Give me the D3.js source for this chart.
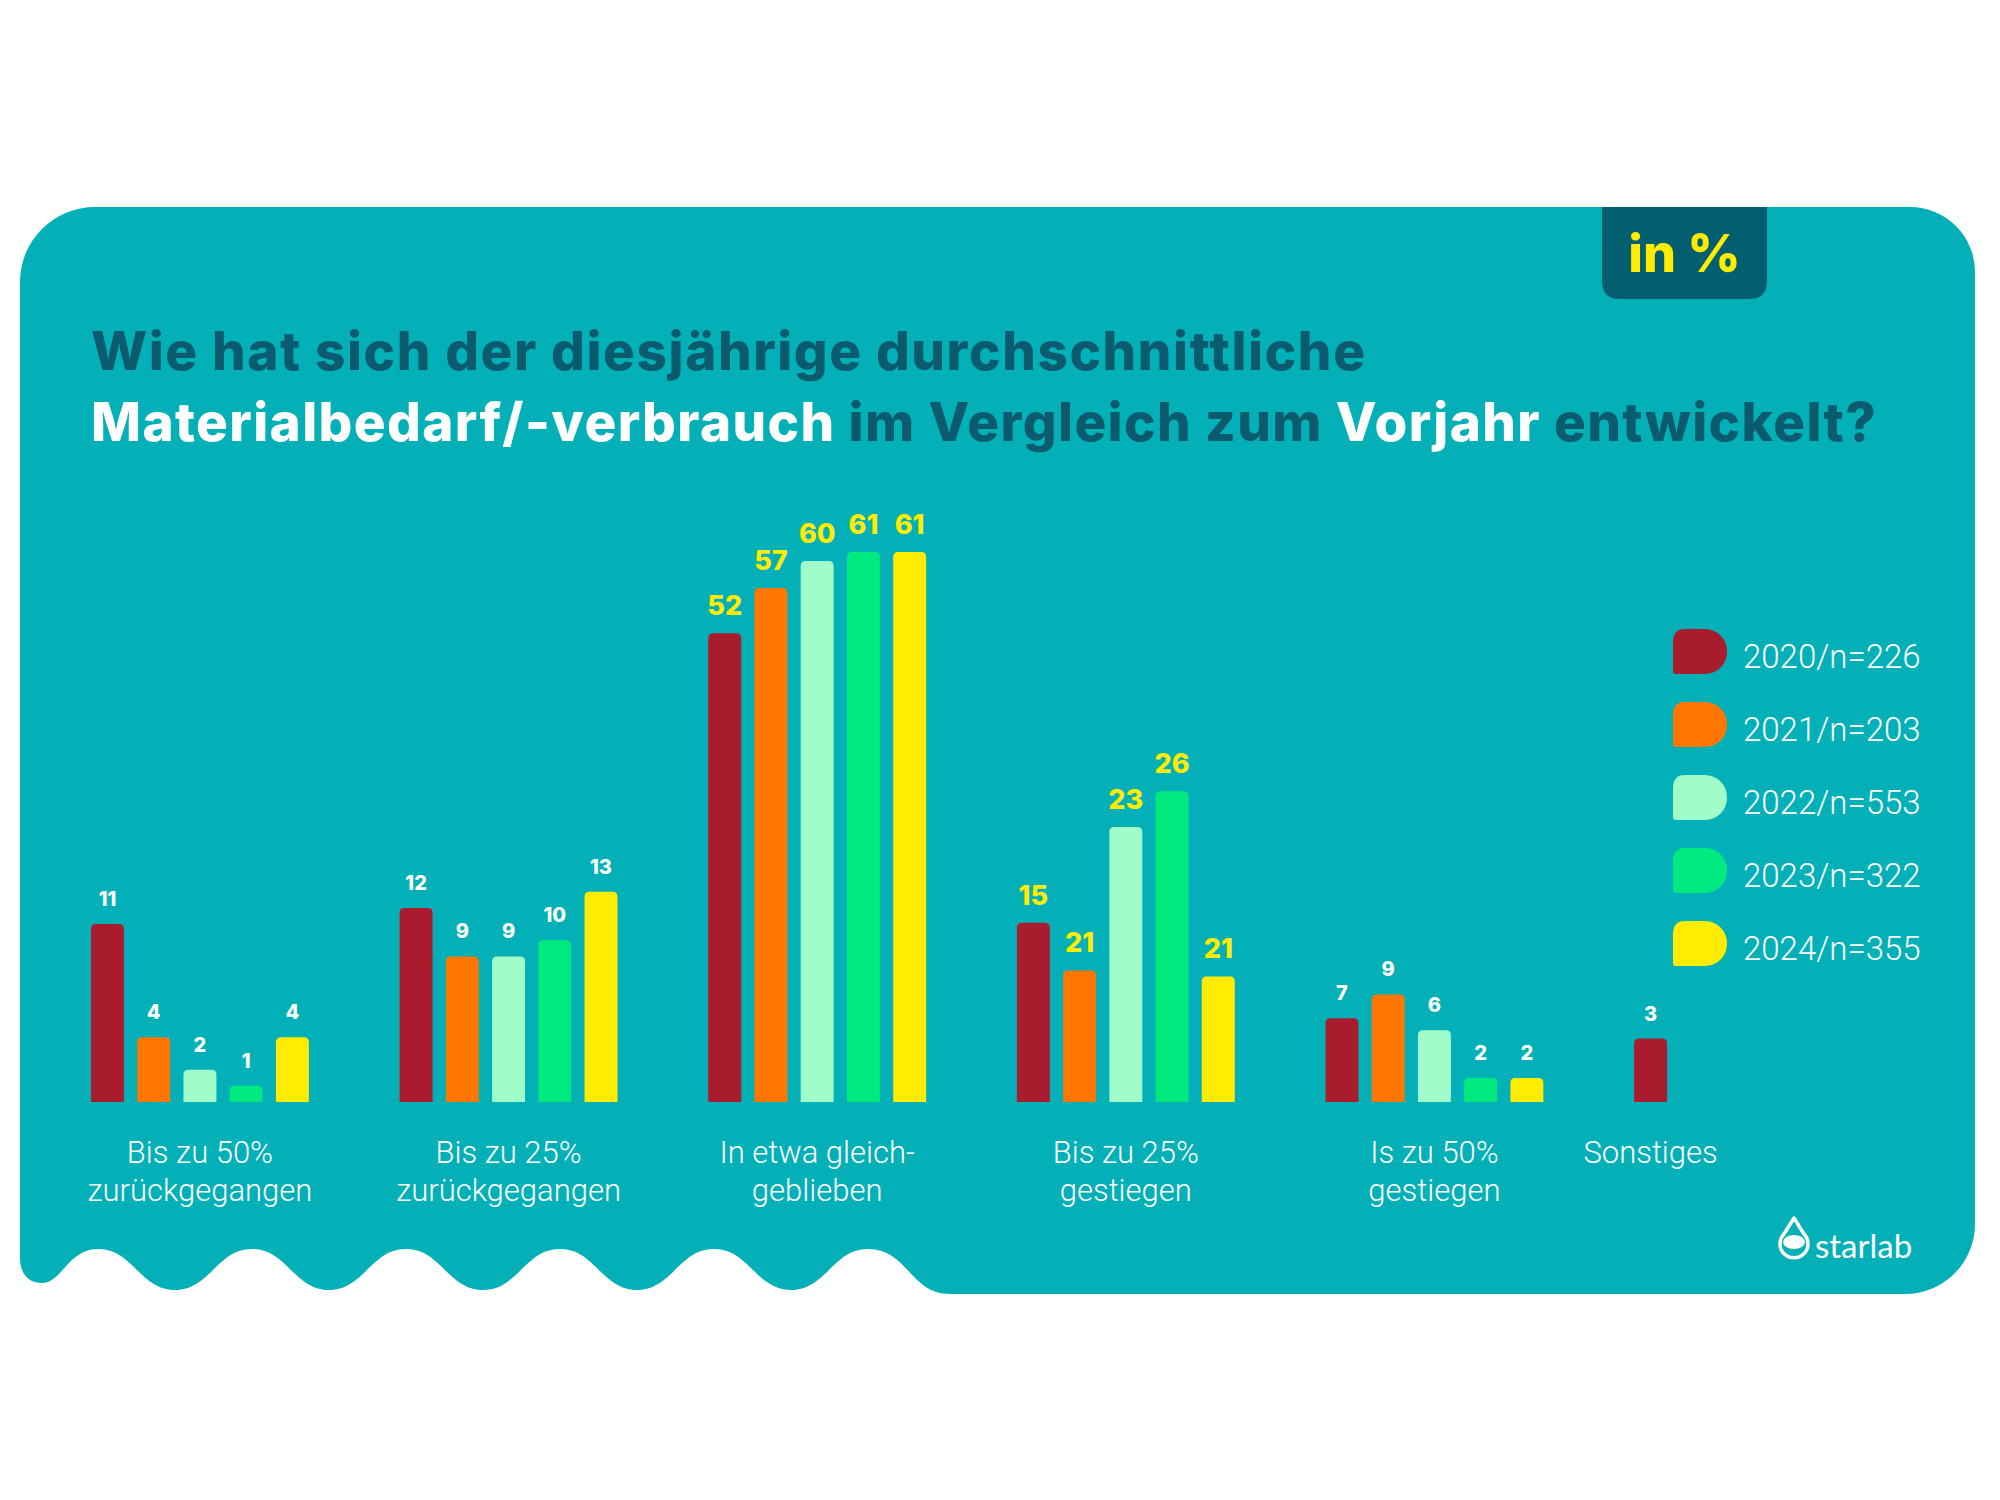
<!DOCTYPE html>
<html>
<head>
<meta charset="utf-8">
<script src="https://cdn.jsdelivr.net/npm/d3@7"></script>
<style>
    body { margin: 0; background: #ffffff; }
</style>
</head>
<body>
<svg id="chart"></svg>
<script>
// categories (two text lines each)
var categories = [
    ["Bis zu 50%", "zurückgegangen"],
    ["Bis zu 25%", "zurückgegangen"],
    ["In etwa gleich-", "geblieben"],
    ["Bis zu 25%", "gestiegen"],
    ["Is zu 50%", "gestiegen"],
    ["Sonstiges"]
]

var years = ["2020/n=226", "2021/n=203", "2022/n=553", "2023/n=322", "2024/n=355"]

// printed values, in %
var v2020 = [11, 12, 52, 15, 7, 3]
var v2021 = [4, 9, 57, 21, 9, null]
var v2022 = [2, 9, 60, 23, 6, null]
var v2023 = [1, 10, 61, 26, 2, null]
var v2024 = [4, 13, 61, 21, 2, null]

// the source draws the two "21" bars of "Bis zu 25% gestiegen" at about 11
var drawnGroup4 = [15, 11, 23, 26, 10.5]

// every group in the source has its own vertical scale
var groupScaleMax = [34, 34, 61, 46, 46, 26]

var series = [v2020, v2021, v2022, v2023, v2024]
var colors = ["#a81c2e", "#ff7700", "#a0fdca", "#00ea80", "#ffec00"]

var dims = {
    width: 2000,
    height: 1500,
    baseline: 1102,
    barArea: 550
}

var teal = "#03b0b7"
var darkTeal = "#0a5b6d"
var yellow = "#ffec00"

var svg = d3.select("#chart")
            .attr("width", dims.width)
            .attr("height", dims.height)

// background panel with the wavy lower edge
var panel = {left: 20, top: 207, right: 1975, bottom: 1294, rTL: 75, rTR: 65, rBR: 70}
var peakY = 1249, troughY = 1290
var firstPeak = 98, halfPeriod = 77, nPeaks = 6
var k = 35

var p = d3.path()
p.moveTo(panel.left + panel.rTL, panel.top)
p.lineTo(panel.right - panel.rTR, panel.top)
p.arcTo(panel.right, panel.top, panel.right, panel.top + panel.rTR, panel.rTR)
p.lineTo(panel.right, panel.bottom - panel.rBR)
p.arcTo(panel.right, panel.bottom, panel.right - panel.rBR, panel.bottom, panel.rBR)
p.lineTo(950, panel.bottom)
var lastPeak = firstPeak + (nPeaks - 1) * 2 * halfPeriod
p.bezierCurveTo(950 - 40, panel.bottom, lastPeak + 40, peakY, lastPeak, peakY)
var cx = lastPeak, cy = peakY
for (var i = 0; i < (nPeaks - 1) * 2; i++) {
    var nx = cx - halfPeriod
    var ny = (cy == peakY) ? troughY : peakY
    p.bezierCurveTo(cx - k, cy, nx + k, ny, nx, ny)
    cx = nx
    cy = ny
}
p.bezierCurveTo(cx - 30, cy, 62, 1283, 42, 1283)
p.bezierCurveTo(27, 1283, panel.left, 1272, panel.left, 1258)
p.lineTo(panel.left, panel.top + panel.rTL)
p.arcTo(panel.left, panel.top, panel.left + panel.rTL, panel.top, panel.rTL)
p.closePath()

svg.append("path")
   .attr("d", p.toString())
   .attr("fill", teal)

// "in %" tab
var tab = {x: 1602, y: 207, w: 165, h: 92, r: 18}
svg.append("path")
   .attr("d", `M${tab.x},${tab.y} H${tab.x + tab.w} V${tab.y + tab.h - tab.r} Q${tab.x + tab.w},${tab.y + tab.h} ${tab.x + tab.w - tab.r},${tab.y + tab.h} H${tab.x + tab.r} Q${tab.x},${tab.y + tab.h} ${tab.x},${tab.y + tab.h - tab.r} Z`)
   .attr("fill", "#035e70")

svg.append("text")
   .attr("x", tab.x + tab.w / 2)
   .attr("y", 272)
   .attr("text-anchor", "middle")
   .attr("font-family", "Inter")
   .attr("font-weight", 800)
   .attr("font-size", "52px")
   .attr("fill", yellow)
   .text("in %")

// title
var titleFont = "Inter"
svg.append("text")
   .attr("x", 91)
   .attr("y", 370)
   .attr("font-family", titleFont)
   .attr("font-weight", 800)
   .attr("font-size", "53px")
   .attr("letter-spacing", "1.6px")
   .attr("fill", darkTeal)
   .text("Wie hat sich der diesjährige durchschnittliche")

var title2 = svg.append("text")
                .attr("x", 91)
                .attr("y", 441)
                .attr("font-family", titleFont)
                .attr("font-weight", 800)
                .attr("font-size", "53px")
                .attr("letter-spacing", "1.4px")

var title2Parts = [
    ["Materialbedarf/-verbrauch", "#ffffff"],
    [" im Vergleich zum ", darkTeal],
    ["Vorjahr", "#ffffff"],
    [" entwickelt?", darkTeal]
]
title2.selectAll("tspan")
      .data(title2Parts)
      .enter()
      .append("tspan")
      .attr("fill", d => d[1])
      .style("white-space", "pre")
      .text(d => d[0])

// scales
var x0 = d3.scaleBand()
           .domain(d3.range(categories.length))
           .range([91, 1852])
           .paddingInner(0.294)
           .paddingOuter(0)

var x1 = d3.scaleBand()
           .domain(d3.range(years.length))
           .range([0, x0.bandwidth()])
           .paddingInner(0.287)
           .paddingOuter(0)

var yScales = groupScaleMax.map(m => d3.scaleLinear()
                                      .domain([0, m])
                                      .range([dims.baseline, dims.baseline - dims.barArea]))

function topRounded(x, y, w, h, r) {
    r = Math.min(r, h / 2, w / 2)
    return `M${x},${y + h} V${y + r} Q${x},${y} ${x + r},${y} H${x + w - r} Q${x + w},${y} ${x + w},${y + r} V${y + h} Z`
}

var bars = []
categories.forEach(function(c, ci) {
    series.forEach(function(s, si) {
        if (s[ci] == null) return
        var len = (ci == 3) ? drawnGroup4[si] : s[ci]
        bars.push({ci: ci, si: si, value: s[ci], len: len})
    })
})

var highlight = [false, false, true, true, false, false]

svg.append("g")
   .selectAll("path")
   .data(bars)
   .enter()
   .append("path")
   .attr("d", d => topRounded(x0(d.ci) + x1(d.si), yScales[d.ci](d.len), x1.bandwidth(),
                              dims.baseline - yScales[d.ci](d.len), 5))
   .attr("fill", d => colors[d.si])

svg.append("g")
   .selectAll("text")
   .data(bars)
   .enter()
   .append("text")
   .attr("x", d => x0(d.ci) + x1(d.si) + x1.bandwidth() / 2)
   .attr("y", d => yScales[d.ci](d.len) - 18)
   .attr("text-anchor", "middle")
   .attr("font-family", "Inter")
   .attr("font-weight", 800)
   .attr("font-size", d => highlight[d.ci] ? "27px" : "20px")
   .attr("fill", d => highlight[d.ci] ? yellow : "#ffffff")
   .text(d => d.value)

// category labels, centred under the bars that are present
var catLabels = svg.append("g")
                   .selectAll("text")
                   .data(categories)
                   .enter()
                   .append("text")
                   .attr("x", function(c, ci) {
                       var present = bars.filter(b => b.ci == ci)
                       return d3.mean(present, b => x0(b.ci) + x1(b.si) + x1.bandwidth() / 2)
                   })
                   .attr("y", 1163)
                   .attr("text-anchor", "middle")
                   .attr("font-family", "Roboto")
                   .attr("font-weight", 300)
                   .attr("font-size", "31px")
                   .attr("fill", "#ffffff")

catLabels.selectAll("tspan")
         .data(c => c)
         .enter()
         .append("tspan")
         .attr("x", function() { return d3.select(this.parentNode).attr("x") })
         .attr("dy", (d, i) => i == 0 ? 0 : 38)
         .text(d => d)

// legend
var legend = svg.append("g")
                .selectAll("g")
                .data(years)
                .enter()
                .append("g")
                .attr("transform", (d, i) => `translate(1673, ${652 + i * 73})`)

legend.append("path")
      .attr("d", "M0,-10 Q0,-23 12,-23 H32 A22,22 0 0 1 54,-1 A22,22 0 0 1 32,22 H3 Q0,22 0,19 Z")
      .attr("fill", (d, i) => colors[i])

legend.append("text")
      .attr("x", 70)
      .attr("y", 16)
      .attr("font-family", "Roboto")
      .attr("font-weight", 300)
      .attr("font-size", "33px")
      .attr("fill", "#ffffff")
      .text(d => d)

// starlab logo
var logo = svg.append("g")
logo.append("path")
    .attr("d", "M1794,1218 L1804,1234 A14,14 0 1 1 1784,1234 Z")
    .attr("fill", "none")
    .attr("stroke", "#ffffff")
    .attr("stroke-width", 3.5)
    .attr("stroke-linejoin", "round")
logo.append("ellipse")
    .attr("cx", 1794)
    .attr("cy", 1242)
    .attr("rx", 11)
    .attr("ry", 7)
    .attr("fill", "#ffffff")
logo.append("text")
    .attr("x", 1815)
    .attr("y", 1258)
    .attr("font-family", "Lato")
    .attr("font-size", "33px")
    .attr("fill", "#ffffff")
    .text("starlab")
</script>
</body>
</html>
